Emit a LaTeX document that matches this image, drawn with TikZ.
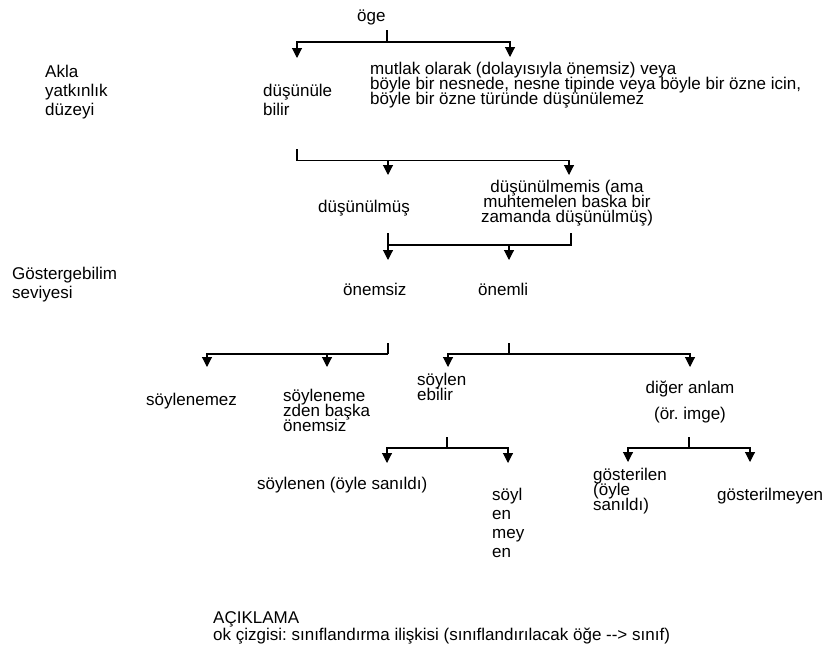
\documentclass[tikz,border=0pt]{standalone}
\usepackage{fontspec}
\setmainfont{Liberation Sans}
\usetikzlibrary{arrows.meta}
\newcommand\tightlines{\lineskiplimit=-50pt\lineskip=0pt\frenchspacing}

\begin{document}
\begin{tikzpicture}[x=1pt,y=1pt,yscale=-1,
    lbl/.style={inner sep=0pt, anchor=base west, align=left, font=\fontsize{17}{15}\selectfont\tightlines},
    lblw/.style={lbl, font=\fontsize{17}{19}\selectfont\tightlines},
    lblc/.style={lbl, anchor=base, align=center},
    link/.style={line width=1.1pt},
    arr/.style={link, -{Triangle[width=10pt,length=10pt]}}]
    \useasboundingbox (0,0) rectangle (824,653);

    % level labels (base = last line)
    \node[lblw] (akla) at (45,115) {Akla\\yatkınlık\\düzeyi};
    \node[lblw] (gosterge) at (12,298) {Göstergebilim\\seviyesi};

    % Text Node
    \node[lbl] (oge) at (357,21) {öge};
    % Text Node
    \node[lblw] (dusbil) at (263,115) {düşünüle\\bilir};
    % Text Node
    \node[lbl] (mutlak) at (370,104) {mutlak olarak (dolayısıyla önemsiz) veya\\böyle bir nesnede, nesne tipinde veya böyle bir özne icin,\\böyle bir özne türünde düşünülemez};
    % Text Node
    \node[lbl] (dusmus) at (318,212) {düşünülmüş};
    % Text Node
    \node[lblc] (dusmemis) at (567,222) {düşünülmemis (ama\\muhtemelen baska bir\\zamanda düşünülmüş)};
    % Text Node
    \node[lbl] (onemsiz) at (343,295) {önemsiz};
    % Text Node
    \node[lbl] (onemli) at (478,295) {önemli};
    % Text Node
    \node[lbl] (soylenemez) at (146,405) {söylenemez};
    % Text Node
    \node[lbl] (baskaonemsiz) at (283,431) {söyleneme\\zden başka\\önemsiz};
    % Text Node
    \node[lbl] (soylenebilir) at (417,400) {söylen\\ebilir};
    % Text Node
    \node[lblc, font=\fontsize{17}{26}\selectfont\tightlines] (diger) at (690,419) {diğer anlam\\(ör. imge)};
    % Text Node
    \node[lbl] (soylenen) at (257,489) {söylenen (öyle sanıldı)};
    % Text Node
    \node[lblw] (soylenmeyen) at (492,557) {söyl\\en\\mey\\en};
    % Text Node
    \node[lbl] (gosterilen) at (593,510) {gösterilen\\(öyle\\sanıldı)};
    % Text Node
    \node[lbl] (gosterilmeyen) at (717,500) {gösterilmeyen};
    % legend
    \node[lbl, font=\fontsize{17}{17}\selectfont\tightlines] (aciklama) at (213,640) {AÇIKLAMA\\ok çizgisi: sınıflandırma ilişkisi (sınıflandırılacak öğe -{}-> sınıf)};

    % öge -> düşünüle bilir / mutlak ...
    \coordinate (t1) at (387,30);
    \coordinate (b1) at (387,42);
    \coordinate (a11) at (297,58);
    \coordinate (a12) at (510,57);
    \draw[link] (t1) -- (b1);
    \draw[arr] (b1) -| (a11);
    \draw[arr] (b1) -| (a12);

    % düşünüle bilir -> düşünülmüş / düşünülmemis
    \coordinate (t2) at (297,149);
    \coordinate (b2) at (297,160.5);
    \coordinate (a21) at (388,175);
    \coordinate (a22) at (569,175);
    \draw[link] (t2) -- (b2);
    \draw[arr] (b2) -| (a21);
    \draw[arr] (b2) -| (a22);

    % düşünülmüş, düşünülmemis -> önemsiz / önemli
    \coordinate (t31) at (388,233);
    \coordinate (t32) at (571,233);
    \coordinate (b31) at (388,245);
    \coordinate (b32) at (509,245);
    \coordinate (a31) at (388,260);
    \coordinate (a32) at (509,260);
    \draw[arr] (t31) -- (a31);
    \draw[link] (t32) |- (b31);
    \draw[arr] (b32) -- (a32);

    % önemsiz -> söylenemez / söylenemezden başka önemsiz
    \coordinate (t4) at (388,343);
    \coordinate (b4) at (388,354);
    \coordinate (a41) at (207,367);
    \coordinate (a42) at (327,367);
    \draw[link] (t4) -- (b4);
    \draw[arr] (b4) -| (a41);
    \draw[arr] (b4) -| (a42);

    % önemli -> söylenebilir / diğer anlam
    \coordinate (t5) at (509,343);
    \coordinate (b5) at (509,354);
    \coordinate (a51) at (448,367);
    \coordinate (a52) at (690,367);
    \draw[link] (t5) -- (b5);
    \draw[arr] (b5) -| (a51);
    \draw[arr] (b5) -| (a52);

    % söylenebilir -> söylenen / söylenmeyen
    \coordinate (t6) at (447,437);
    \coordinate (b6) at (447,448);
    \coordinate (a61) at (387,463);
    \coordinate (a62) at (508,463);
    \draw[link] (t6) -- (b6);
    \draw[arr] (b6) -| (a61);
    \draw[arr] (b6) -| (a62);

    % diğer anlam -> gösterilen / gösterilmeyen
    \coordinate (t7) at (689,437);
    \coordinate (b7) at (689,448);
    \coordinate (a71) at (628,462);
    \coordinate (a72) at (750,462);
    \draw[link] (t7) -- (b7);
    \draw[arr] (b7) -| (a71);
    \draw[arr] (b7) -| (a72);
\end{tikzpicture}
\end{document}
